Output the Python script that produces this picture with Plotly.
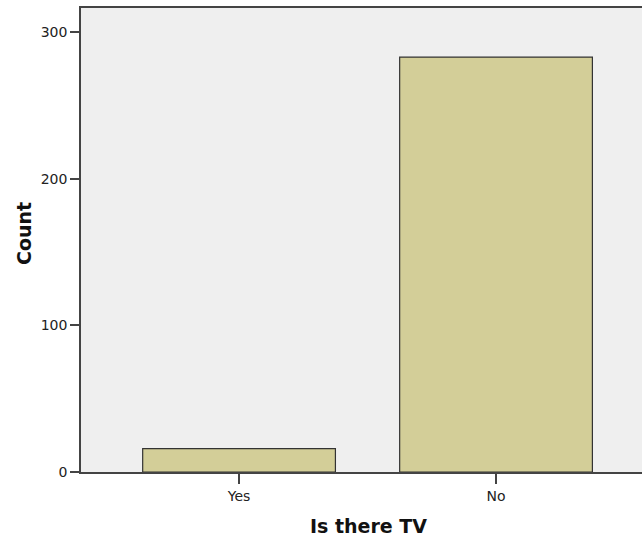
import plotly.graph_objects as go

categories = ["Yes", "No"]
counts = [16, 283]
y_ticks = [0, 100, 200, 300]

W, H = 642, 544
pl, pr, pt, pb = 81, 0, 8, 72

fig = go.Figure()
fig.add_trace(go.Bar(
    x=categories, y=counts, width=0.75,
    marker=dict(color="#d3ce98", line=dict(color="#333333", width=1.2)),
    hoverinfo="skip",
))

fig.update_layout(
    width=W, height=H,
    margin=dict(l=pl, r=pr, t=pt, b=pb),
    paper_bgcolor="white", plot_bgcolor="#efefef",
    showlegend=False,
    font=dict(family="DejaVu Sans, Verdana, sans-serif", size=14, color="#000"),
    xaxis=dict(
        type="category", range=[-0.615, 1.568],
        showline=True, linecolor="#444444", linewidth=1.5, mirror=True,
        ticks="outside", ticklen=10, tickcolor="#444444", tickwidth=1.5,
        showgrid=False, zeroline=False,
        tickfont=dict(size=14, color="#222"),
    ),
    yaxis=dict(
        range=[0, 316.5], tickvals=y_ticks,
        showline=True, linecolor="#444444", linewidth=1.5, mirror=False,
        ticks="outside", ticklen=9, tickcolor="#444444", tickwidth=1.5,
        showgrid=False, zeroline=False,
        tickfont=dict(size=14, color="#222"),
    ),
)

pw, ph = W - pl - pr, H - pt - pb
fig.add_annotation(text="<b>Is there TV</b>", x=(368 - pl) / pw, y=(H - 526 - pb) / ph,
                   xref="paper", yref="paper", xanchor="center", yanchor="middle",
                   showarrow=False, font=dict(size=19, color="#111"))
fig.add_annotation(text="<b>Count</b>", x=(24 - pl) / pw, y=(H - 234 - pb) / ph,
                   textangle=-90, xref="paper", yref="paper", xanchor="center",
                   yanchor="middle", showarrow=False, font=dict(size=19, color="#111"))

fig.write_html("out.html", config={"displayModeBar": False},
               post_script="document.body.style.margin='0';document.body.style.overflow='hidden';")
